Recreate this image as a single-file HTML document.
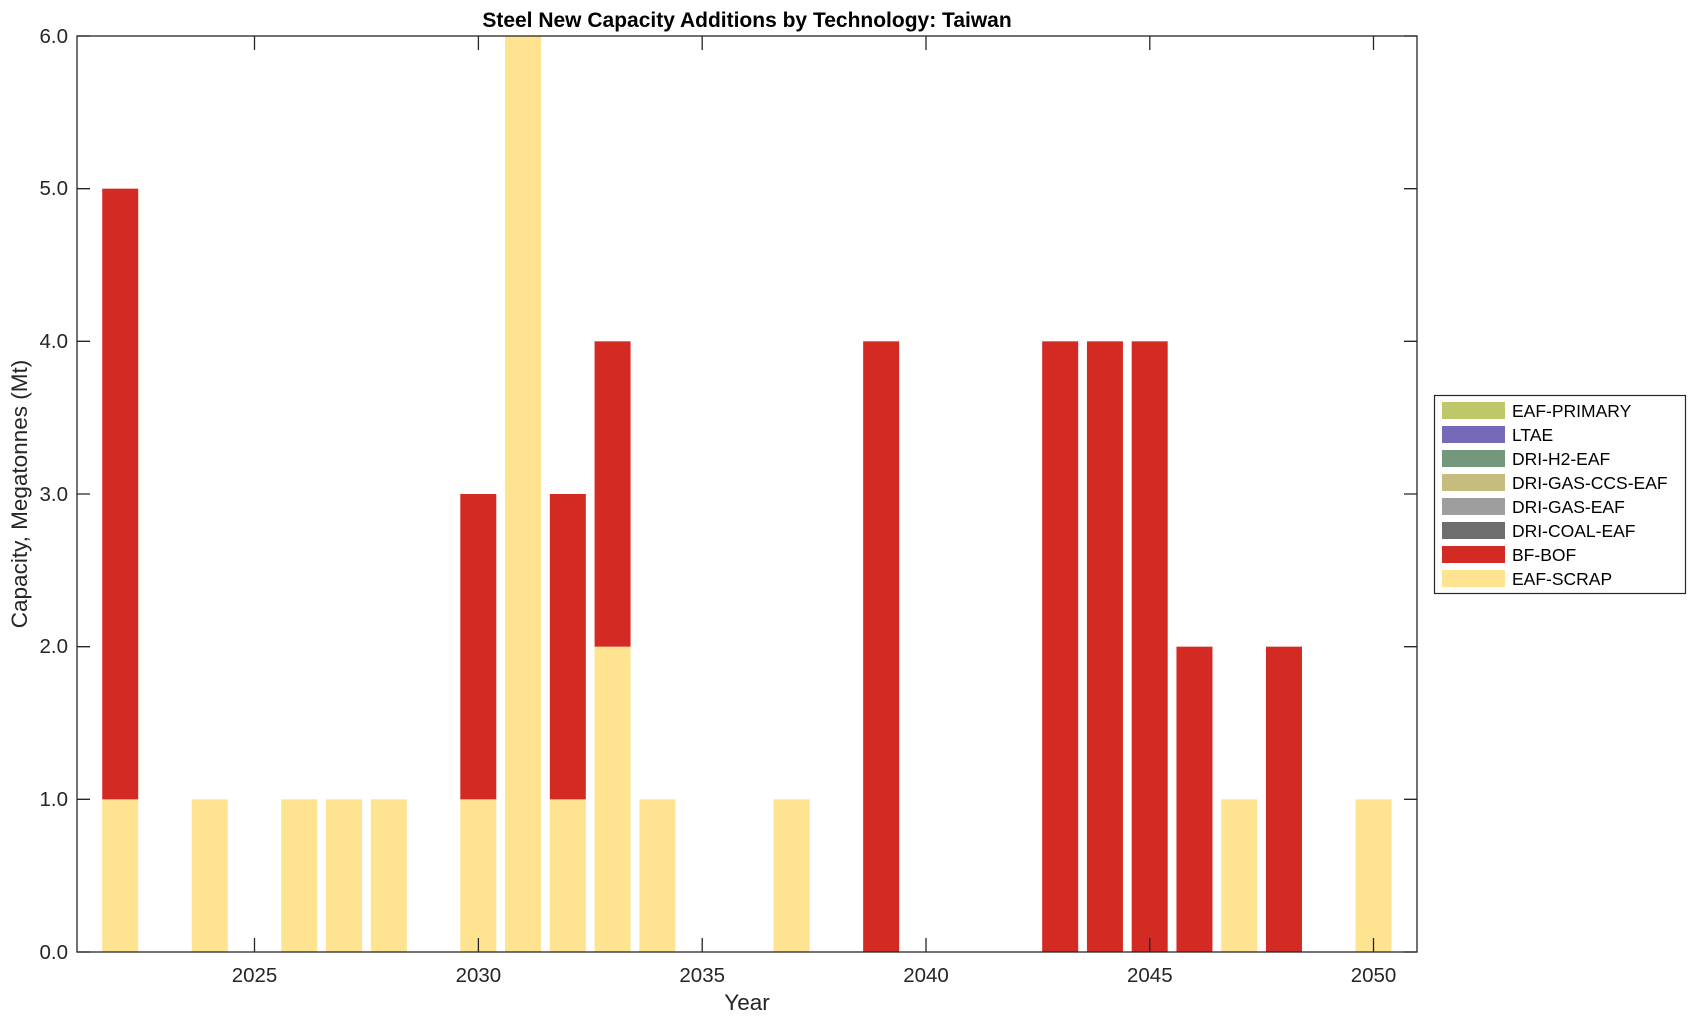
<!DOCTYPE html>
<html><head><meta charset="utf-8"><style>html,body{margin:0;padding:0;background:#fff}</style></head>
<body>
<svg width="1696" height="1021" xmlns="http://www.w3.org/2000/svg" font-family="Liberation Sans, Arial, sans-serif">
<rect width="1696" height="1021" fill="#fff"/>
<g id="bars"></g>
<script>
const data={2022:[1,4],2024:[1,0],2026:[1,0],2027:[1,0],2028:[1,0],2030:[1,2],2031:[6,0],2032:[1,2],2033:[2,2],2034:[1,0],2037:[1,0],2039:[0,4],2043:[0,4],2044:[0,4],2045:[0,4],2046:[0,2],2047:[1,0],2048:[0,2],2050:[1,0]};
const g=document.getElementById('bars');const ns='http://www.w3.org/2000/svg';
const X=y=>254.5+(y-2025)*44.76, Y=v=>952-v*152.67;
for(const k in data){const [s,b]=data[k];const cx=X(+k);
 if(s){const r=document.createElementNS(ns,'rect');r.setAttribute('x',cx-18);r.setAttribute('width',36);r.setAttribute('y',Y(s));r.setAttribute('height',s*152.67);r.setAttribute('fill','#fee391');g.appendChild(r);}
 if(b){const r=document.createElementNS(ns,'rect');r.setAttribute('x',cx-18);r.setAttribute('width',36);r.setAttribute('y',Y(s+b));r.setAttribute('height',b*152.67);r.setAttribute('fill','#d42a24');g.appendChild(r);}
}
</script>
<g stroke="#262626" stroke-width="1.3" fill="none">
<rect x="77" y="36" width="1340" height="916"/>
<path d="M254.5 952v-14M478.4 952v-14M702.2 952v-14M926 952v-14M1149.8 952v-14M1373.5 952v-14
M254.5 36v14M478.4 36v14M702.2 36v14M926 36v14M1149.8 36v14M1373.5 36v14
M77 952h13M77 799.3h13M77 646.7h13M77 494h13M77 341.3h13M77 188.7h13M77 36h13
M1417 952h-13M1417 799.3h-13M1417 646.7h-13M1417 494h-13M1417 341.3h-13M1417 188.7h-13M1417 36h-13"/>
</g>
<g font-size="20.5" fill="#262626" text-anchor="end">
<text x="68" y="959">0.0</text><text x="68" y="806">1.0</text><text x="68" y="653">2.0</text><text x="68" y="501">3.0</text><text x="68" y="348">4.0</text><text x="68" y="195">5.0</text><text x="68" y="43">6.0</text>
</g>
<g font-size="20.5" fill="#262626" text-anchor="middle">
<text x="254.5" y="982">2025</text><text x="478.4" y="982">2030</text><text x="702.2" y="982">2035</text><text x="926" y="982">2040</text><text x="1149.8" y="982">2045</text><text x="1373.5" y="982">2050</text>
<text x="747" y="1010" font-size="22.5">Year</text>
<text transform="translate(27,494) rotate(-90)" font-size="22.5">Capacity, Megatonnes (Mt)</text>
<text x="747" y="27" font-size="21" font-weight="bold" fill="#000">Steel New Capacity Additions by Technology: Taiwan</text>
</g>
<rect x="1434.5" y="395.5" width="251" height="198" fill="#fff" stroke="#262626" stroke-width="1.2"/>
<g>
<rect x="1442" y="402" width="63" height="17" fill="#bec86b"/>
<rect x="1442" y="426" width="63" height="17" fill="#7569b8"/>
<rect x="1442" y="450" width="63" height="17" fill="#73987b"/>
<rect x="1442" y="474" width="63" height="17" fill="#c6bc7d"/>
<rect x="1442" y="498" width="63" height="17" fill="#9e9e9e"/>
<rect x="1442" y="522" width="63" height="17" fill="#6e6e6e"/>
<rect x="1442" y="546" width="63" height="17" fill="#d42a24"/>
<rect x="1442" y="570" width="63" height="17" fill="#fee391"/>
</g>
<g font-size="17.5" fill="#000">
<text x="1512" y="417">EAF-PRIMARY</text>
<text x="1512" y="441">LTAE</text>
<text x="1512" y="465">DRI-H2-EAF</text>
<text x="1512" y="489">DRI-GAS-CCS-EAF</text>
<text x="1512" y="513">DRI-GAS-EAF</text>
<text x="1512" y="537">DRI-COAL-EAF</text>
<text x="1512" y="561">BF-BOF</text>
<text x="1512" y="585">EAF-SCRAP</text>
</g>
</svg>
</body></html>
